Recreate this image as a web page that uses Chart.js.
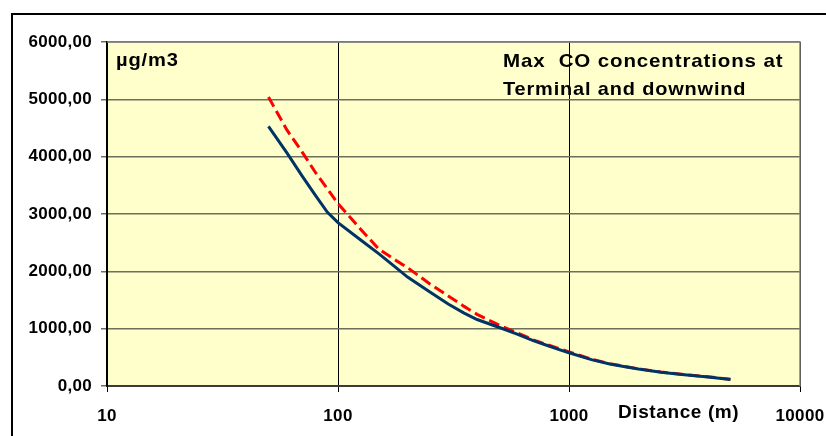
<!DOCTYPE html>
<html>
<head>
<meta charset="utf-8">
<script src="https://cdn.jsdelivr.net/npm/chart.js@4"></script>
<style>
  html, body { margin: 0; padding: 0; background: #ffffff; }
  canvas { display: block; }
</style>
</head>
<body>
<canvas id="c" width="826" height="436"></canvas>
<script>
// ---- data ----
const distances   = [50, 60, 70, 80, 90, 100, 125, 150, 175, 200, 250, 300, 350, 400, 500, 600, 700, 800, 900, 1000, 1250, 1500, 1750, 2000, 2500, 3000, 3500, 4000, 5000];
const solidSeries = [4530, 4070, 3660, 3320, 3030, 2850, 2550, 2310, 2090, 1900, 1640, 1430, 1275, 1160, 1020, 900, 790, 710, 640, 580, 460, 385, 335, 295, 240, 205, 178, 155, 115];
const dashSeries  = [5040, 4470, 4080, 3720, 3440, 3180, 2740, 2390, 2210, 2065, 1780, 1570, 1393, 1250, 1060, 925, 805, 725, 655, 595, 470, 390, 340, 300, 245, 210, 182, 160, 118];
const xTickValues = [10, 100, 1000, 10000];
const xTickLabels = ['10', '100', '1000', '10000'];
const yTickValues = [0, 1000, 2000, 3000, 4000, 5000, 6000];
const yTickLabels = ['0,00', '1000,00', '2000,00', '3000,00', '4000,00', '5000,00', '6000,00'];
const unitLabel   = 'µg/m3';
const titleLines  = ['Max  CO concentrations at', 'Terminal and downwind'];
const xAxisTitle  = 'Distance (m)';

const FONT = "'Liberation Sans', Arial, sans-serif";
const TICK_SPACING = '0.3px';

const toPoints = (ys) => distances.map((d, i) => ({ x: d, y: ys[i] }));

function wideText(ctx, text, x, y, sx) {
  ctx.save();
  ctx.translate(x, y);
  ctx.scale(sx, 1);
  ctx.fillText(text, 0, 0);
  ctx.restore();
}

const decorPlugin = {
  id: 'decor',
  beforeUpdate(chart) { chart.ctx.letterSpacing = TICK_SPACING; },
  beforeDraw(chart) {
    const ctx = chart.ctx;
    const a = chart.chartArea;
    ctx.save();
    ctx.fillStyle = '#ffffff';
    ctx.fillRect(0, 0, chart.width, chart.height);
    // outer chart frame
    ctx.strokeStyle = '#000000';
    ctx.lineWidth = 2;
    ctx.strokeRect(12, 14, 1000, 1000);
    // plot background
    ctx.fillStyle = '#FFFFCC';
    ctx.fillRect(a.left, a.top, a.right - a.left, a.bottom - a.top);
    ctx.restore();
    ctx.letterSpacing = TICK_SPACING;
  },
  beforeDatasetsDraw(chart) {
    const ctx = chart.ctx;
    const a = chart.chartArea;
    ctx.save();
    // plot frame (top/right)
    ctx.strokeStyle = '#808080';
    ctx.lineWidth = 1.5;
    ctx.beginPath();
    ctx.moveTo(a.left, a.top);
    ctx.lineTo(a.right, a.top);
    ctx.lineTo(a.right, a.bottom);
    ctx.stroke();
    // texts
    ctx.fillStyle = '#000000';
    ctx.textAlign = 'left';
    ctx.textBaseline = 'alphabetic';
    ctx.font = 'bold 19px ' + FONT;
    ctx.letterSpacing = '0.8px';
    wideText(ctx, unitLabel, 116, 66, 1.06);
    wideText(ctx, titleLines[0], 503, 67, 1.08);
    wideText(ctx, titleLines[1], 503, 95, 1.05);
    ctx.font = 'bold 19px ' + FONT;
    ctx.letterSpacing = '0.6px';
    ctx.fillText(xAxisTitle, 618, 418);
    ctx.restore();
    ctx.letterSpacing = TICK_SPACING;
  }
};

new Chart(document.getElementById('c'), {
  type: 'line',
  data: {
    datasets: [
      {
        label: 'Terminal (solid)',
        data: toPoints(solidSeries),
        borderColor: '#003366',
        borderWidth: 3,
        pointRadius: 0,
        fill: false,
        tension: 0
      },
      {
        label: 'Downwind (dashed)',
        data: toPoints(dashSeries),
        borderColor: '#FF0000',
        borderWidth: 3,
        borderDash: [11, 5],
        pointRadius: 0,
        fill: false,
        tension: 0
      }
    ]
  },
  options: {
    responsive: false,
    animation: false,
    devicePixelRatio: 1,
    layout: { padding: { top: 42, right: 26, left: 0, bottom: 0 } },
    plugins: {
      legend: { display: false },
      tooltip: { enabled: false },
      title: { display: false }
    },
    scales: {
      x: {
        type: 'logarithmic',
        position: 'bottom',
        min: 10,
        max: 10000,
        afterBuildTicks(scale) { scale.ticks = xTickValues.map(v => ({ value: v })); },
        afterFit(scale) { scale.height = 50; scale.paddingLeft = 0; scale.paddingRight = 0; },
        ticks: {
          autoSkip: false,
          maxRotation: 0,
          padding: 14,
          color: '#000000',
          font: { family: FONT, size: 17, weight: 'bold' },
          callback: (v, i) => xTickLabels[i]
        },
        grid: { color: '#000000', lineWidth: 1, tickLength: 6, drawTicks: true },
        border: { display: true, color: '#3a3a3a', width: 2 }
      },
      y: {
        type: 'linear',
        position: 'left',
        min: 0,
        max: 6000,
        afterBuildTicks(scale) { scale.ticks = yTickValues.map(v => ({ value: v })); },
        afterFit(scale) { scale.width = 107; scale.paddingTop = 0; scale.paddingBottom = 0; },
        ticks: {
          autoSkip: false,
          padding: 9,
          color: '#000000',
          font: { family: FONT, size: 17, weight: 'bold' },
          callback: (v, i) => yTickLabels[i]
        },
        grid: { color: '#6e6e5c', lineWidth: 1.5, tickLength: 6, drawTicks: true },
        border: { display: true, color: '#000000', width: 2 }
      }
    }
  },
  plugins: [decorPlugin]
});
</script>
</body>
</html>
